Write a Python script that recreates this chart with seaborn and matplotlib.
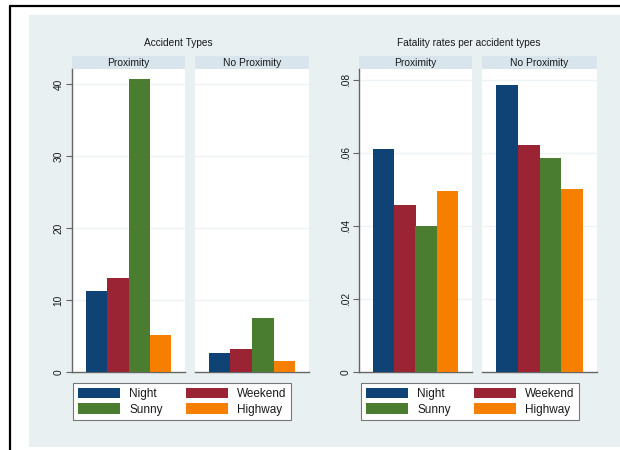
import matplotlib
matplotlib.use("Agg")
import matplotlib.pyplot as plt
from matplotlib.patches import Rectangle, Patch
from matplotlib.lines import Line2D
import pandas as pd
import seaborn as sns

# ---- data ----
panels = ["Proximity", "No Proximity"]
types = ["Night", "Weekend", "Sunny", "Highway"]
accidents_prox = [11.3, 13.0, 40.7, 5.2]
accidents_noprox = [2.7, 3.2, 7.5, 1.5]
fatality_prox = [0.061, 0.0457, 0.0401, 0.0497]
fatality_noprox = [0.0786, 0.0623, 0.0587, 0.0502]
acc_ticks = [0, 10, 20, 30, 40]
acc_tick_labels = ["0", "10", "20", "30", "40"]
fat_ticks = [0, 0.02, 0.04, 0.06, 0.08]
fat_tick_labels = ["0", ".02", ".04", ".06", ".08"]
titles = ["Accident Types", "Fatality rates per accident types"]
colors = ["#0F4275", "#9A2434", "#4A7D30", "#F77F00"]

def long_table(prox, noprox):
    rows = []
    for panel, vals in zip(panels, [prox, noprox]):
        for t, v in zip(types, vals):
            rows.append({"panel": panel, "type": t, "value": v})
    return pd.DataFrame(rows)

acc_df = long_table(accidents_prox, accidents_noprox)
fat_df = long_table(fatality_prox, fatality_noprox)

sns.set_theme(style="white")
plt.rcParams["font.family"] = ["Liberation Sans", "DejaVu Sans"]

W, H = 620, 450
fig = plt.figure(figsize=(W / 100, H / 100), dpi=100)
fig.patch.set_facecolor("white")

BG = "#E8F0F2"
STRIP = "#D8E5EC"
GRID = "#EEF3F5"
AXC = "#666666"
TXT = "#1A1A1A"

# outer graph region and frame lines
fig.patches.append(Rectangle((29 / W, 1 - 447 / H), (W - 29) / W, (447 - 15) / H,
                             transform=fig.transFigure, facecolor=BG, edgecolor="none",
                             zorder=-5))
fig.lines.append(Line2D([10 / W, 1], [1 - 6 / H, 1 - 6 / H], transform=fig.transFigure,
                        color="black", lw=1.6, zorder=-4))
fig.lines.append(Line2D([10 / W, 10 / W], [0, 1 - 6 / H], transform=fig.transFigure,
                        color="black", lw=1.6, zorder=-4))

def px_axes(x0, x1, ytop, ybot):
    return fig.add_axes([x0 / W, 1 - ybot / H, (x1 - x0) / W, (ybot - ytop) / H])

def draw_panel(ax, df, panel, ticks, tick_labels, ytop_val, first):
    sub = df[df["panel"] == panel]
    sns.barplot(data=sub, x="panel", y="value", hue="type", hue_order=types,
                palette=colors, saturation=1, width=0.76, linewidth=0,
                legend=False, ax=ax, zorder=3)
    ax.set_facecolor("white")
    ax.set_xlim(-0.5, 0.5)
    ax.set_ylim(0, ytop_val)
    ax.set_xlabel("")
    ax.set_ylabel("")
    ax.set_xticks([])
    ax.set_yticks(ticks)
    for t in ticks[1:]:
        ax.axhline(t, color=GRID, lw=1.0, zorder=1)
    for s in ["top", "right"]:
        ax.spines[s].set_visible(False)
    ax.spines["bottom"].set_color(AXC)
    ax.spines["bottom"].set_linewidth(1.0)
    if first:
        ax.spines["left"].set_color(AXC)
        ax.spines["left"].set_linewidth(1.0)
        ax.set_yticklabels(tick_labels, rotation=90, va="center", fontsize=7.3)
        ax.tick_params(axis="y", left=True, length=4, width=0.8, color=AXC, pad=2,
                       labelcolor=TXT)
    else:
        ax.spines["left"].set_visible(False)
        ax.tick_params(axis="y", left=False, labelleft=False)
    # strip label above the panel
    ax.add_patch(Rectangle((0, 1.0), 1, 13 / 303, transform=ax.transAxes,
                           facecolor=STRIP, edgecolor="none", clip_on=False))
    ax.text(0.5, 1.0 + 6.5 / 303, panel, transform=ax.transAxes, ha="center",
            va="center", fontsize=7.4, color=TXT)

def add_legend(ax, x0):
    handles = [Patch(facecolor=c, edgecolor="none", label=t) for c, t in zip(colors, types)]
    # order so rows read Night/Weekend, Sunny/Highway
    order = [0, 2, 1, 3]
    leg = ax.legend([handles[i] for i in order], [types[i] for i in order], ncol=2,
                    loc="upper left", bbox_to_anchor=(x0 / W, 1 - 383 / H),
                    bbox_transform=fig.transFigure, fontsize=8.5, frameon=True,
                    fancybox=False, edgecolor="#777777", framealpha=1,
                    handlelength=3.6, handleheight=0.95, handletextpad=0.75,
                    columnspacing=1.95, labelspacing=0.3, borderpad=0.4,
                    borderaxespad=0)
    leg.get_frame().set_linewidth(0.8)
    leg.get_frame().set_facecolor("white")
    for t in leg.get_texts():
        t.set_color(TXT)

ytop_px, ybot_px = 69, 372

# chart 1: accident counts
a1 = px_axes(72, 185, ytop_px, ybot_px)
a2 = px_axes(195, 309, ytop_px, ybot_px)
acc_top = 40 * (ybot_px - ytop_px) / (ybot_px - 84)
draw_panel(a1, acc_df, panels[0], acc_ticks, acc_tick_labels, acc_top, True)
draw_panel(a2, acc_df, panels[1], acc_ticks, acc_tick_labels, acc_top, False)
add_legend(a1, 73)
fig.text(178 / W, 1 - 43 / H, titles[0], ha="center", va="center", fontsize=7.3,
         color=TXT)

# chart 2: fatality rates
b1 = px_axes(359, 472, ytop_px, ybot_px)
b2 = px_axes(482, 597, ytop_px, ybot_px)
fat_top = 0.08 * (ybot_px - ytop_px) / (ybot_px - 80)
draw_panel(b1, fat_df, panels[0], fat_ticks, fat_tick_labels, fat_top, True)
draw_panel(b2, fat_df, panels[1], fat_ticks, fat_tick_labels, fat_top, False)
add_legend(b1, 361)
fig.text(469 / W, 1 - 43 / H, titles[1], ha="center", va="center", fontsize=7.3,
         color=TXT)

fig.savefig("out.png", dpi=100, facecolor="white")
